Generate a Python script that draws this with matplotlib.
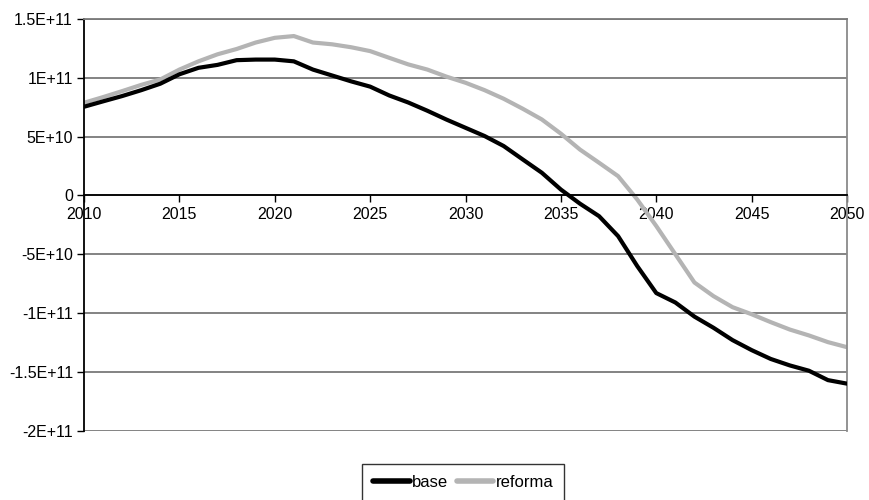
import matplotlib
matplotlib.use("Agg")
import matplotlib.pyplot as plt

plt.rcParams['font.family'] = ['Liberation Sans', 'DejaVu Sans']

years = list(range(2010, 2051))

base = [7.54e10, 8.00e10, 8.45e10, 8.95e10, 9.50e10, 1.03e11, 1.085e11, 1.11e11,
        1.15e11, 1.155e11, 1.155e11, 1.14e11, 1.07e11, 1.02e11, 9.7e10, 9.25e10,
        8.5e10, 7.9e10, 7.2e10, 6.45e10, 5.75e10, 5.05e10, 4.2e10, 3.06e10,
        1.93e10, 5.0e9, -7.0e9, -1.76e10, -3.46e10, -6.0e10, -8.3e10, -9.1e10,
        -1.03e11, -1.125e11, -1.23e11, -1.315e11, -1.39e11, -1.445e11, -1.49e11,
        -1.57e11, -1.6e11]

reforma = [7.88e10, 8.36e10, 8.87e10, 9.4e10, 9.86e10, 1.07e11, 1.14e11, 1.2e11,
           1.245e11, 1.3e11, 1.34e11, 1.355e11, 1.3e11, 1.285e11, 1.26e11, 1.227e11,
           1.17e11, 1.114e11, 1.07e11, 1.01e11, 9.58e10, 8.95e10, 8.22e10, 7.37e10,
           6.46e10, 5.25e10, 3.9e10, 2.78e10, 1.64e10, -3.4e9, -2.6e10, -5.0e10,
           -7.4e10, -8.56e10, -9.5e10, -1.01e11, -1.077e11, -1.14e11, -1.19e11,
           -1.247e11, -1.29e11]

y_ticks = [-2e11, -1.5e11, -1e11, -5e10, 0, 5e10, 1e11, 1.5e11]
y_tick_labels = ['-2E+11', '-1.5E+11', '-1E+11', '-5E+10', '0', '5E+10', '1E+11', '1.5E+11']
x_ticks = [2010, 2015, 2020, 2025, 2030, 2035, 2040, 2045, 2050]

fig = plt.figure(figsize=(8.69, 5.0), dpi=100)
ax = fig.add_axes([0.0967, 0.1386, 0.9747 - 0.0967, 0.962 - 0.1386])

grid_c = '#7a7a7a'
for v in y_ticks:
    ax.axhline(v, color=grid_c, lw=1.3, zorder=1)

ax.plot(years, base, color='black', lw=3.0, label='base', zorder=3,
        solid_joinstyle='round', solid_capstyle='round')
ax.plot(years, reforma, color='#b4b4b4', lw=3.0, label='reforma', zorder=2,
        solid_joinstyle='round', solid_capstyle='round')

ax.set_xlim(2010, 2050)
ax.set_ylim(-2e11, 1.5e11)

ax.spines['bottom'].set_position(('data', 0))
ax.spines['bottom'].set_color('black')
ax.spines['bottom'].set_linewidth(1.3)
ax.spines['left'].set_color('black')
ax.spines['left'].set_linewidth(1.3)
ax.spines['right'].set_color('#8a8a8a')
ax.spines['right'].set_linewidth(1.3)
ax.spines['top'].set_color(grid_c)
ax.spines['top'].set_linewidth(1.3)

ax.set_yticks(y_ticks)
ax.set_yticklabels(y_tick_labels)
ax.set_xticks(x_ticks)
ax.set_xticklabels([str(x) for x in x_ticks])
ax.tick_params(axis='both', labelsize=11.5, length=5, width=1, color='black', pad=3)
ax.tick_params(axis='x', direction='out', pad=3)

leg = fig.legend(loc='upper center', bbox_to_anchor=(0.533, 0.072), ncol=2,
                 frameon=True, fancybox=False, fontsize=12, handlelength=2.2,
                 handletextpad=0.15, columnspacing=0.5, borderpad=0.65,
                 borderaxespad=0.0)
leg.get_frame().set_edgecolor('black')
leg.get_frame().set_linewidth(1.0)
for line in leg.get_lines():
    line.set_linewidth(4.0)

fig.savefig('out.png', dpi=100)
